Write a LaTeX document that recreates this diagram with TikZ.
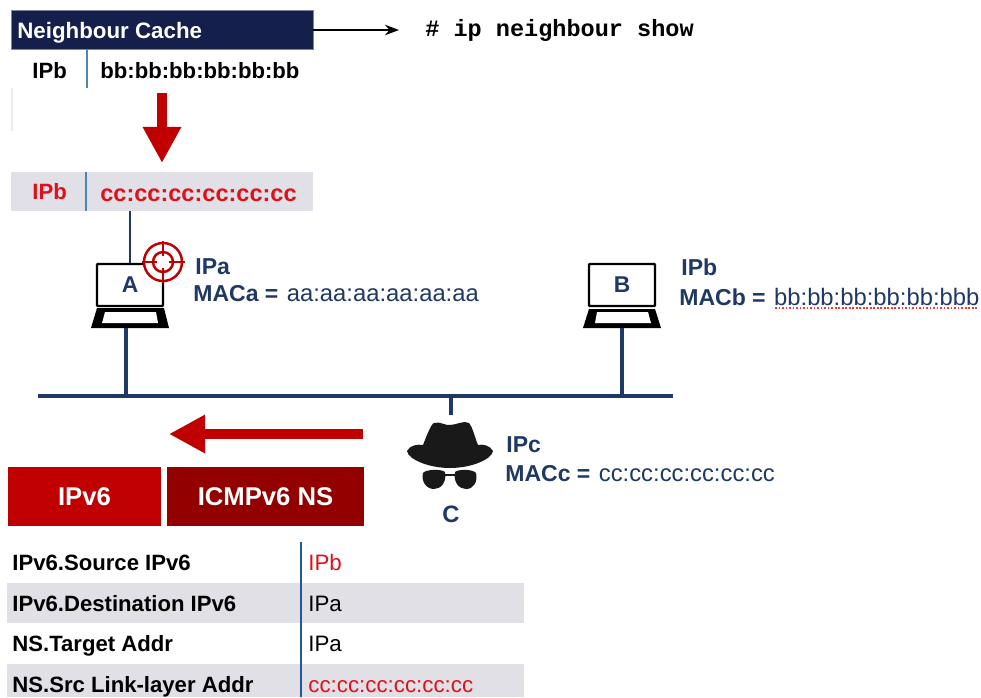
\documentclass[tikz,border=0pt]{standalone}
\usepackage{fontspec}
\setmainfont{Liberation Sans}
\setmonofont{Liberation Mono}
\usetikzlibrary{arrows.meta}
\definecolor{navy}{HTML}{1F3864}
\definecolor{hdrblue}{HTML}{141F4C}
\definecolor{rowgrey}{HTML}{E0E0E6}
\definecolor{sepblue}{HTML}{4A86B8}
\definecolor{sepdark}{HTML}{1F5A94}
\definecolor{alarm}{HTML}{C00000}
\definecolor{alarmdark}{HTML}{930000}
\definecolor{redtext}{HTML}{E00F1A}
\newcommand{\thinvalfont}{\hspace{1.2pt}\fontsize{13.55}{15}\selectfont\mdseries}
\tikzset{
  lab/.style={anchor=base west,inner sep=0pt,font=\fontsize{12.6}{14}\selectfont\bfseries},
  labn/.style={lab,text=navy,font=\fontsize{13.1}{15}\selectfont\bfseries},
  val/.style={anchor=base west,inner sep=0pt,font=\fontsize{12.7}{14}\selectfont},
  bus/.style={draw=navy,line width=2pt},
  sep/.style={draw=sepblue,line width=0.6pt},
  bigarrow/.style={draw=alarm,line width=5.2pt,-{Triangle[length=20.5pt,width=20.5pt]}},
  rowbox/.style={inner sep=0pt,minimum height=0.78cm,minimum width=6.04cm,fill=rowgrey},
  pktbox/.style={inner sep=0pt,minimum height=1.18cm,text=white,font=\fontsize{14.6}{16}\selectfont\bfseries},
  screen/.style={draw=black,line width=1.4pt,rounded corners=0.5pt,fill=white,minimum width=1.32cm,minimum height=0.84cm,inner sep=0pt,text=navy,font=\fontsize{13}{15}\selectfont\bfseries}
}
\begin{document}
\begin{tikzpicture}[x=0.02cm,y=-0.02cm]
        \useasboundingbox (0,0) rectangle (981,697);
        % neighbour cache
        \node[rowbox,fill=hdrblue,draw=navy!60,line width=0.3pt] (cachehdr) at (162,30) {};
        \node[lab,text=white,font=\fontsize{12.7}{14}\selectfont\bfseries] (cachename) at (17,38) {Neighbour Cache};
        \node[anchor=west,inner sep=0pt,font=\fontsize{13.4}{15}\selectfont\ttfamily\bfseries] (ipcmd) at (425,30) {\# ip neighbour show};
        \coordinate (cmdend) at (399,30);
        \draw[line width=0.8pt,-{Stealth[length=8pt,width=6pt]}] (cachehdr.east) -- (cmdend);
        \draw[sep] (87,49) -- (87,88);
        \node[lab] (oldip) at (32,78) {IPb};
        \node[lab] (oldmac) at (100,78) {bb:bb:bb:bb:bb:bb};
        \draw[black!8,line width=0.6pt] (12,88) -- (12,131);
        % poisoned entry
        \coordinate (downstart) at (162,93);
        \coordinate (downend) at (162,163);
        \draw[bigarrow] (downstart) -- (downend);
        \node[rowbox] (newrow) at (162,191.5) {};
        \draw[sep,line width=0.8pt] (86,172) -- (86,211);
        \node[lab,text=redtext] (newip) at (32,199) {IPb};
        \node[lab,text=redtext,font=\fontsize{13.4}{15}\selectfont\bfseries] (newmac) at (100,201) {cc:cc:cc:cc:cc:cc};
        % host A
        \node[screen] (hosta) at (130,285) {A};
        \draw[navy,line width=1pt] (newrow.south-|130,0) -- (hosta.north-|130,0);
        \fill[black] (97,308) -- (164,308) -- (169,328) -- (91,328) -- cycle;
        \fill[white] (105,312) -- (156,312) -- (158,323) -- (102,323) -- cycle;
        \draw[alarm,line width=1.4pt,fill=white] (163,262) circle[radius=19];
        \draw[alarm,line width=1.4pt] (163,262) circle[radius=10];
        \draw[alarm,line width=1.2pt] (163,241) -- (163,256) (163,268) -- (163,283) (142,262) -- (157,262) (169,262) -- (185,262);
        \node[labn] (ipa) at (195,274) {IPa};
        \node[labn] (maca) at (193,301) {MACa = {\thinvalfont aa:aa:aa:aa:aa:aa}};
        % host B
        \node[screen] (hostb) at (622,285) {B};
        \fill[black] (589,309) -- (655,309) -- (661,328) -- (583,328) -- cycle;
        \fill[white] (597,312) -- (648,312) -- (651,323) -- (595,323) -- cycle;
        \node[labn] (ipb) at (681,275) {IPb};
        \node[labn] (macb) at (679,305) {MACb = {\thinvalfont bb:bb:bb:bb:bb:bbb}};
        \draw[red!80,line width=0.8pt,dash pattern=on 1pt off 1pt] (775,308) -- (977,308);
        % link
        \coordinate (busw) at (38,396);
        \coordinate (buse) at (673,396);
        \coordinate (taba) at (126,396);
        \coordinate (tabb) at (622,396);
        \coordinate (tabc) at (451,396);
        \coordinate (hata) at (126,328);
        \coordinate (hatb) at (622,328);
        \coordinate (hatc) at (451,415);
        \draw[bus] (busw) -- (buse);
        \draw[bus] (hata) -- (taba);
        \draw[bus] (hatb) -- (tabb);
        \draw[bus] (tabc) -- (hatc);
        % attacker C
        \fill[black!90] (423,445) .. controls (427,435) and (431,424) .. (434,423)
          .. controls (440,421) and (446,426) .. (450,425)
          .. controls (456,425) and (464,420) .. (469,423)
          .. controls (473,428) and (475,438) .. (478,445)
          .. controls (482,444) and (490,445) .. (493,451)
          .. controls (492,459) and (472,468) .. (450,468)
          .. controls (428,468) and (408,459) .. (407,451)
          .. controls (410,445) and (418,444) .. (423,445) -- cycle;
        \fill[black!90] (423,473) .. controls (426,469) and (442,469) .. (445,472)
          .. controls (447,482) and (441,489) .. (434,489)
          .. controls (426,489) and (421,481) .. (423,473) -- cycle;
        \fill[black!90] (476,473) .. controls (473,469) and (458,469) .. (455,472)
          .. controls (453,482) and (459,489) .. (466,489)
          .. controls (474,489) and (478,481) .. (476,473) -- cycle;
        \draw[black!90,line width=1pt] (445,475) -- (455,475);
        \node[labn,anchor=center,font=\fontsize{13.5}{15}\selectfont\bfseries] (namec) at (451,514) {C};
        \node[labn] (ipc) at (506,452) {IPc};
        \node[labn] (macc) at (505,481) {MACc = {\thinvalfont cc:cc:cc:cc:cc:cc}};
        % spoofed packet
        \coordinate (leftstart) at (363,434);
        \coordinate (leftend) at (169,434);
        \draw[bigarrow] (leftstart) -- (leftend);
        \node[pktbox,fill=alarm,minimum width=3.08cm] (pktip) at (84.5,496.5) {IPv6};
        \node[pktbox,fill=alarmdark,minimum width=3.96cm] (pktns) at (265.5,496.5) {ICMPv6 NS};
        % fields
        \fill[rowgrey] (7,583) rectangle (524,623);
        \fill[rowgrey] (7,664) rectangle (524,697);
        \draw[sepdark,line width=0.6pt] (301,542) -- (301,697);
        \node[lab] (fsrc) at (12,570) {IPv6.Source IPv6};
        \node[val,text=redtext] (vsrc) at (308,570) {IPb};
        \node[lab] (fdst) at (12,611) {IPv6.Destination IPv6};
        \node[val] (vdst) at (308,611) {IPa};
        \node[lab] (ftgt) at (12,651) {NS.Target Addr};
        \node[val] (vtgt) at (308,651) {IPa};
        \node[lab] (flink) at (12,692) {NS.Src Link-layer Addr};
        \node[val,text=redtext] (vlink) at (308,692) {cc:cc:cc:cc:cc:cc};
      \end{tikzpicture}
\end{document}
